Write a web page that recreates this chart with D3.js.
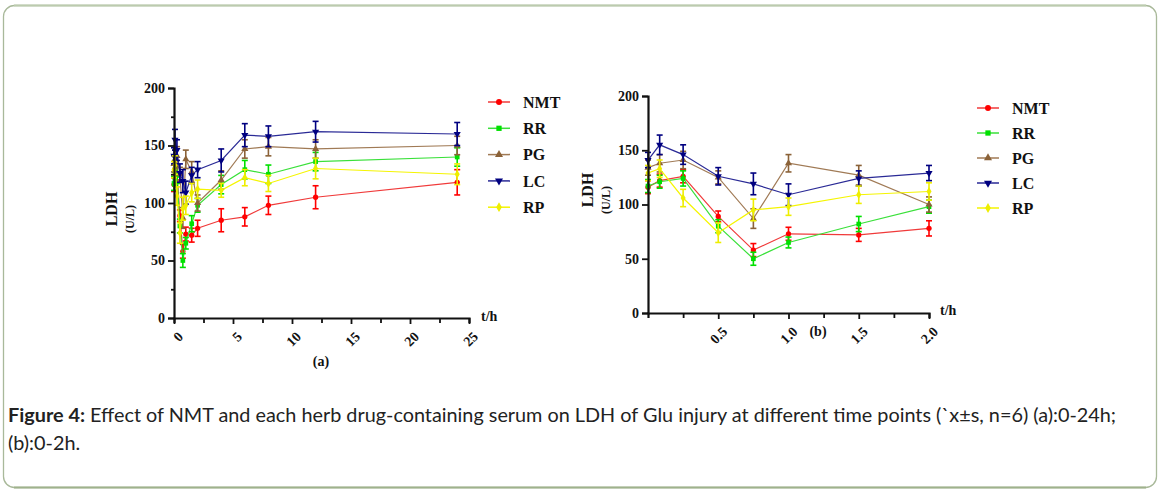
<!DOCTYPE html>
<html><head><meta charset="utf-8">
<script src="https://cdn.jsdelivr.net/npm/d3@7"></script>
<style>body{margin:0;background:#fff}svg{display:block}</style>
</head><body><svg id="c" width="1160" height="493"></svg>
<script>
// ---------- data ----------
const times = [0, 0.083, 0.25, 0.5, 0.75, 1, 1.5, 2, 4, 6, 8, 12, 24];
const seriesNames = ["NMT", "RR", "PG", "LC", "RP"];
const nmt = [116, 122, 126, 89, 58, 73, 72, 78, 85, 88, 98, 105, 118];
const rr  = [117, 121, 124, 80, 50, 65, 82, 98, 116, 129, 125, 136, 140];
const pg  = [134, 138, 141, 125, 87, 138, 127, 100, 120, 147, 149, 147, 150];
const lc  = [141, 155, 146, 126, 119, 109, 124, 129, 137, 159, 158, 162, 160];
const rp  = [129, 133, 106, 74, 95, 98, 109, 112, 111, 122, 117, 130, 125];
const nmtSD = [6, 6, 6, 5, 6, 6, 6, 7, 10, 8, 8, 10, 11];
const rrSD  = [6, 6, 7, 6, 6, 5, 7, 6, 8, 8, 8, 8, 8];
const pgSD  = [7, 8, 8, 6, 9, 8, 9, 7, 8, 8, 8, 8, 8];
const lcSD  = [7, 9, 9, 8, 10, 10, 7, 7, 10, 10, 9, 9, 10];
const rpSD  = [7, 8, 8, 9, 10, 8, 8, 8, 6, 7, 7, 9, 9];
const yTicks = [0, 50, 100, 150, 200];
const xTicksA = [0, 5, 10, 15, 20, 25];
const xTicksB = [0.5, 1.0, 1.5, 2.0];
const caption1 = "Effect of NMT and each herb drug-containing serum on LDH of Glu injury at different time points (`x±s, n=6) (a):0-24h;";
const caption2 = "(b):0-2h.";

const series = [
  {name: "NMT", vals: nmt, sd: nmtSD, line: "#f03a3a", mark: "#ff0000", sym: d3.symbolCircle},
  {name: "RR",  vals: rr,  sd: rrSD,  line: "#3ae03a", mark: "#00e000", sym: d3.symbolSquare},
  {name: "PG",  vals: pg,  sd: pgSD,  line: "#a07a55", mark: "#8b6238", sym: d3.symbolTriangle},
  {name: "LC",  vals: lc,  sd: lcSD,  line: "#2a2a96", mark: "#000080", sym: "down"},
  {name: "RP",  vals: rp,  sd: rpSD,  line: "#f5f500", mark: "#eeee00", sym: d3.symbolDiamond}
];

const svg = d3.select("#c");
const serif = "'Liberation Serif','Times New Roman',serif";

// frame
svg.append("rect").attr("x", 3.5).attr("y", 5.5).attr("width", 1153).attr("height", 482)
  .attr("rx", 11).attr("fill", "none").attr("stroke", "#a9b99a").attr("stroke-width", 1.3);
svg.append("line").attr("x1", 14).attr("x2", 1146).attr("y1", 5.5).attr("y2", 5.5)
  .attr("stroke", "#bccbae").attr("stroke-width", 2);
svg.append("line").attr("x1", 14).attr("x2", 1146).attr("y1", 487.5).attr("y2", 487.5)
  .attr("stroke", "#9fb28c").attr("stroke-width", 2);

function symPath(sym, size) {
  if (sym === "down") return d3.symbol().type(d3.symbolTriangle).size(size)();
  return d3.symbol().type(sym).size(size)();
}

function panel(cfg) {
  const g = svg.append("g");
  const x = d3.scaleLinear().domain(cfg.xdom).range(cfg.xr);
  const y = d3.scaleLinear().domain([0, 200]).range(cfg.yr);
  const n = cfg.n;
  const ts = times.slice(0, n);

  series.forEach(s => {
    const pts = ts.map((t, i) => ({t, v: s.vals[i], sd: s.sd[i]}));
    g.append("path").datum(pts).attr("fill", "none").attr("stroke", s.line).attr("stroke-width", 1.2)
      .attr("d", d3.line().x(d => x(d.t)).y(d => y(d.v)));
    const eb = g.append("g").attr("stroke", s.mark).attr("stroke-width", 1.6);
    pts.forEach(d => {
      eb.append("line").attr("x1", x(d.t)).attr("x2", x(d.t)).attr("y1", y(d.v - d.sd)).attr("y2", y(d.v + d.sd));
      [d.v - d.sd, d.v + d.sd].forEach(v => eb.append("line")
        .attr("x1", x(d.t) - 3).attr("x2", x(d.t) + 3).attr("y1", y(v)).attr("y2", y(v)));
    });
    g.append("g").selectAll("path").data(pts).join("path")
      .attr("d", symPath(s.sym, 22))
      .attr("transform", d => `translate(${x(d.t)},${y(d.v)})${s.sym === "down" ? " rotate(180)" : ""}`)
      .attr("fill", s.mark);
  });

  g.append("g").attr("transform", `translate(${cfg.xr[0]},0)`)
    .call(d3.axisLeft(y).tickValues(yTicks).tickSize(6).tickPadding(3).tickFormat(d3.format("d")));
  if (cfg.yMinor) {
    g.append("g").attr("transform", `translate(${cfg.xr[0]},0)`)
      .call(d3.axisLeft(y).tickValues(cfg.yMinor).tickSize(3).tickFormat(""))
      .call(a => a.select(".domain").remove());
  }
  g.append("g").attr("transform", `translate(0,${cfg.yr[0]})`)
    .call(d3.axisBottom(x).tickValues(cfg.xMinor).tickSize(5).tickFormat(""));
  g.append("g").attr("transform", `translate(0,${cfg.yr[0]})`)
    .call(d3.axisBottom(x).tickValues(cfg.xTicks).tickSize(6).tickFormat(cfg.xfmt))
    .call(a => a.select(".domain").remove())
    .call(a => a.selectAll("text").attr("text-anchor", "end").attr("dy", "0.35em")
      .attr("transform", "translate(6,16) rotate(-45)").attr("y", 0));
  g.selectAll(".domain").attr("stroke-width", 2.2).attr("stroke", "#111");
  g.selectAll(".tick line").attr("stroke-width", 1.8).attr("stroke", "#111");
  g.selectAll(".tick text").attr("font-family", serif).attr("font-weight", "bold")
    .attr("font-size", 14).attr("fill", "#111");

  g.append("text").attr("transform", `translate(${cfg.ldh[0]},${cfg.ldh[1]}) rotate(-90)`)
    .attr("text-anchor", "middle").attr("font-family", serif).attr("font-weight", "bold")
    .attr("font-size", 16).attr("fill", "#111").text("LDH");
  g.append("text").attr("transform", `translate(${cfg.ldh[0] + 17},${cfg.ldh[1] + 10}) rotate(-90)`)
    .attr("text-anchor", "middle").attr("font-family", serif).attr("font-weight", "bold")
    .attr("font-size", 12).attr("fill", "#111").text("(U/L)");
  g.append("text").attr("x", cfg.th[0]).attr("y", cfg.th[1]).attr("font-family", serif)
    .attr("font-weight", "bold").attr("font-size", 14).attr("fill", "#111").text("t/h");
  g.append("text").attr("x", cfg.lab[0]).attr("y", cfg.lab[1]).attr("text-anchor", "middle")
    .attr("font-family", serif).attr("font-weight", "bold").attr("font-size", 14).attr("fill", "#111")
    .text(cfg.label);

  const lg = g.append("g");
  series.forEach((s, i) => {
    const ly = cfg.leg[1] + i * cfg.leg[2];
    lg.append("line").attr("x1", cfg.leg[0] - 11).attr("x2", cfg.leg[0] + 11).attr("y1", ly).attr("y2", ly)
      .attr("stroke", s.line).attr("stroke-width", 1.5);
    lg.append("path").attr("d", symPath(s.sym, 28))
      .attr("transform", `translate(${cfg.leg[0]},${ly})${s.sym === "down" ? " rotate(180)" : ""}`)
      .attr("fill", s.mark);
    lg.append("text").attr("x", cfg.leg[0] + 24).attr("y", ly).attr("dy", "0.35em")
      .attr("font-family", serif).attr("font-weight", "bold").attr("font-size", 16).attr("fill", "#111")
      .text(s.name);
  });
}

panel({xdom: [0, 25], xr: [174, 469], yr: [318, 88], n: 13,
  xTicks: xTicksA, xMinor: [2.5, 7.5, 12.5, 17.5, 22.5], yMinor: [25, 75, 125, 175], xfmt: d3.format("d"),
  ldh: [117, 209], th: [481, 321], lab: [321, 366], label: "(a)", leg: [499, 102, 26.3]});
panel({xdom: [0, 2], xr: [648, 929], yr: [313, 96], n: 8,
  xTicks: xTicksB, xMinor: [0.25, 0.75, 1.25, 1.75], yMinor: null, xfmt: d3.format(".1f"),
  ldh: [593, 190], th: [940, 315], lab: [818, 336], label: "(b)", leg: [988, 108, 25]});

// caption (Calibri-like: narrow glyphs → horizontally condensed)
const capFont = "Lato,'Open Sans',sans-serif";
const cap = svg.append("text").attr("font-family", capFont).attr("font-size", 19).attr("fill", "#222");
cap.append("tspan").attr("font-weight", "bold").text("Figure 4:");
cap.append("tspan").text(" " + caption1);
const w = cap.node().getComputedTextLength();
const sx = 1109 / w;
cap.attr("transform", `translate(8,422) scale(${sx},1)`);
svg.append("text").attr("transform", `translate(8,450) scale(${sx},1)`).attr("font-family", capFont)
  .attr("font-size", 19).attr("fill", "#222").text(caption2);
</script></body></html>
